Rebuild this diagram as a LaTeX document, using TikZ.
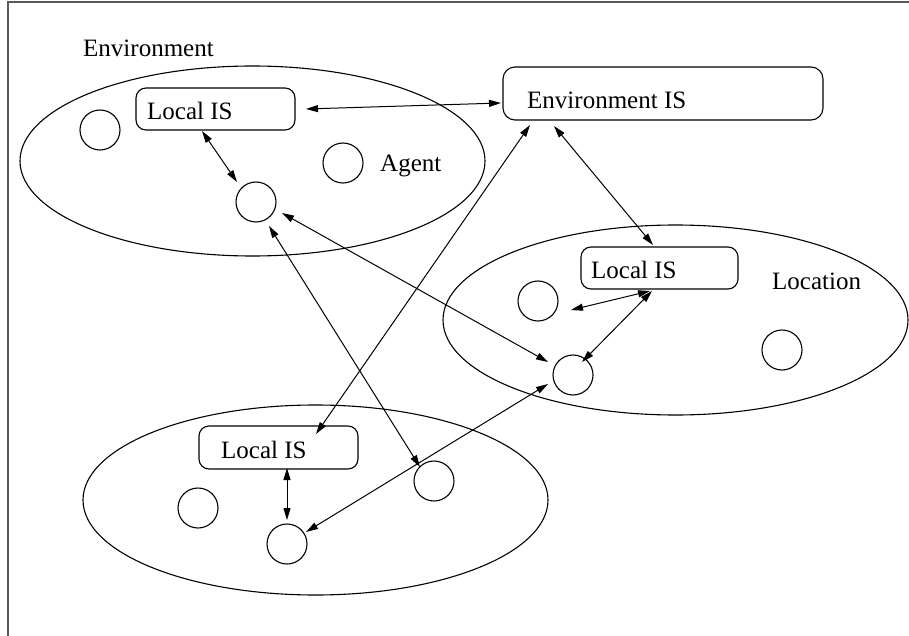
\documentclass[tikz,border=0pt]{standalone}
\usepackage{fontspec}
\setmainfont{Liberation Serif}
\usetikzlibrary{arrows.meta,shapes.geometric}
\begin{document}
\begin{tikzpicture}[x=1pt,y=1pt,
  frameline/.style={line width=1.5pt, black!65},
  infobox/.style={draw, rounded corners=10pt, line width=1.1pt, inner sep=0pt, outer sep=0pt, minimum height=42pt},
  agentc/.style={draw, circle, line width=1.1pt, inner sep=0pt, outer sep=0pt, minimum size=40pt},
  region/.style={draw, ellipse, line width=1.1pt, inner sep=0pt, outer sep=0pt, minimum width=465pt, minimum height=190pt},
  lbl/.style={anchor=base west, inner sep=0pt, font=\fontsize{25}{30}\selectfont},
  link/.style={{Triangle[length=12pt,width=7pt]}-{Triangle[length=12pt,width=7pt]}, line width=1pt},
]
\useasboundingbox (0,0) rectangle (909,-636);
\draw[frameline] (8,-636) -- (8,-2) -- (909,-2);

% regions
\node[region] (envA) at (252.5,-161) {};
\node[region] (envB) at (675.5,-320) {};
\node[region] (envC) at (315.5,-500) {};

% information systems
\node[infobox, minimum width=159pt] (L1) at (215.5,-109) {};
\node[infobox, minimum width=320pt, minimum height=53pt, rounded corners=12pt] (EIS) at (663,-93.5) {};
\node[infobox, minimum width=157pt] (L2) at (659.5,-268) {};
\node[infobox, minimum width=159pt, minimum height=43pt] (L3) at (278.5,-447.5) {};

% texts
\node[lbl] (tEnv) at (83,-57) {Environment};
\node[lbl] (tAgent) at (380,-172) {Agent};
\node[lbl] (tLoc) at (772,-289) {Location};
\node[lbl] (tEIS) at (527,-109) {Environment IS};
\node[lbl] (tL1) at (147,-120) {Local IS};
\node[lbl] (tL2) at (591,-278) {Local IS};
\node[lbl] (tL3) at (221,-458) {Local IS};

% agents
\node[agentc] (a1) at (100,-130) {};
\node[agentc] (a2) at (343,-163) {};
\node[agentc] (a3) at (256,-202) {};
\node[agentc] (b1) at (538,-301) {};
\node[agentc] (b2) at (573,-375) {};
\node[agentc] (b3) at (782,-350) {};
\node[agentc] (c1) at (198,-508) {};
\node[agentc] (c2) at (287,-544) {};
\node[agentc] (c3) at (434,-481) {};

% connectors
\draw[link] ([shift={(11,0)}]L1.east) -- ([shift={(-2,-9.5)}]EIS.west);
\draw[link] ([shift={(-13.5,-1)}]L1.south) -- ([shift={(-19,20)}]a3.center);
\draw[link] ([shift={(-133,-5)}]EIS.south) -- ([shift={(37.5,-8)}]L3.north);
\draw[link] ([shift={(-109,-6)}]EIS.south) -- ([shift={(-6.5,2)}]L2.north);
\draw[link] ([shift={(26,-11)}]a3.center) -- ([shift={(-25,13)}]b2.center);
\draw[link] ([shift={(13,-24)}]a3.center) -- ([shift={(-14,14)}]c3.center);
\draw[link] ([shift={(33,-9)}]b1.center) -- ([shift={(-9.5,-2)}]L2.south);
\draw[link] ([shift={(9,13)}]b2.center) -- ([shift={(-7.5,-2)}]L2.south);
\draw[link] ([shift={(8.5,1)}]L3.south) -- ([shift={(0,24)}]c2.center);
\draw[link] ([shift={(-25,-9)}]b2.center) -- ([shift={(19,12)}]c2.center);
\end{tikzpicture}
\end{document}
